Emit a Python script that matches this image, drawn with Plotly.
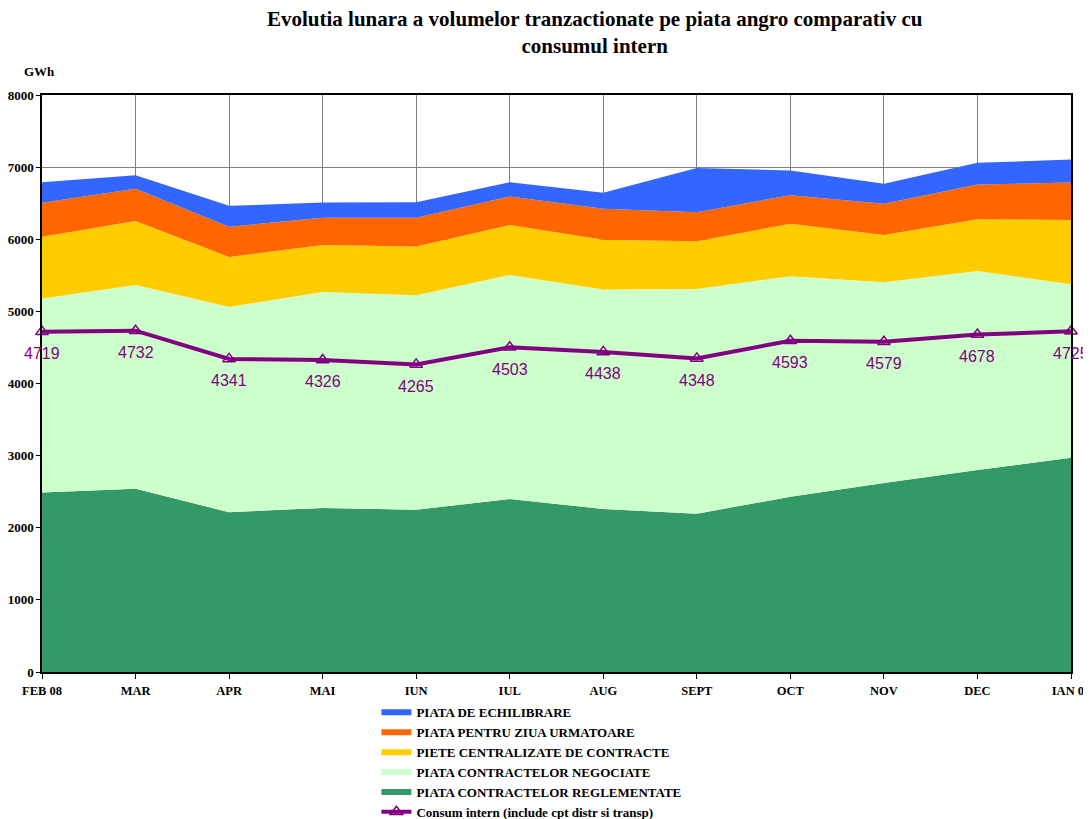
import plotly.graph_objects as go

luni = ["FEB 08", "MAR", "APR", "MAI", "IUN", "IUL", "AUG", "SEPT", "OCT", "NOV", "DEC", "IAN 09"]

# GWh pe fiecare piata (valori estimate din grafic)
reglementate = [2490, 2540, 2215, 2275, 2250, 2400, 2260, 2195, 2430, 2620, 2800, 2970]
negociate = [2687, 2826, 2847, 2995, 2974, 3105, 3042, 3116, 3057, 2784, 2760, 2406]
centralizate = [858, 886, 692, 650, 677, 691, 691, 660, 728, 654, 719, 890]
pzu = [470, 447, 419, 378, 397, 397, 429, 405, 396, 433, 480, 521]
echilibrare = [286, 189, 290, 212, 216, 198, 221, 613, 342, 277, 300, 318]
consum = [4719, 4732, 4341, 4326, 4265, 4503, 4438, 4348, 4593, 4579, 4678, 4725]

serif = "Liberation Serif"
mov = "#800080"

fig = go.Figure()

zone = [
    ("PIATA CONTRACTELOR REGLEMENTATE", reglementate, "#339966", 5),
    ("PIATA CONTRACTELOR NEGOCIATE", negociate, "#CCFFCC", 4),
    ("PIETE CENTRALIZATE DE CONTRACTE", centralizate, "#FFCC00", 3),
    ("PIATA PENTRU ZIUA URMATOARE", pzu, "#FF6600", 2),
    ("PIATA DE ECHILIBRARE", echilibrare, "#3366FF", 1),
]
for nume, vals, col, rank in zone:
    fig.add_trace(go.Scatter(
        x=luni, y=vals, name=nume, stackgroup="one", mode="none",
        fillcolor=col, legendrank=rank,
    ))

fig.add_trace(go.Scatter(
    x=luni, y=consum, name="Consum intern (include cpt distr si transp)",
    mode="lines+markers",
    line=dict(color=mov, width=4),
    marker=dict(symbol="triangle-up-open", size=11, color=mov,
                line=dict(width=1.5, color=mov)),
    legendrank=6, cliponaxis=False,
))

# etichete consum, sub fiecare punct
etichete = [dict(x=l, y=v, text=str(v), showarrow=False, yshift=-22,
                 font=dict(family="Liberation Sans", size=16, color=mov))
            for l, v in zip(luni, consum)]

# pagina are o margine de 8px, deci figura e cu 8px mai mica
fig.update_layout(
    width=1083, height=811,
    margin=dict(l=34, r=20, t=87, b=147, autoexpand=False),
    paper_bgcolor="white", plot_bgcolor="white",
    font=dict(family=serif, color="black"),
    showlegend=True,
    legend=dict(
        x=0.325, y=-0.044, xanchor="left", yanchor="top",
        traceorder="normal",
        font=dict(family=serif, size=13, color="black", weight="bold"),
        tracegroupgap=0, itemwidth=30,
    ),
    annotations=etichete + [
        dict(text="GWh", xref="paper", yref="paper", x=-0.019, y=1.04,
             xanchor="left", yanchor="middle", showarrow=False,
             font=dict(family=serif, size=13, color="black", weight="bold")),
        dict(text="Evolutia lunara a volumelor tranzactionate pe piata angro comparativ cu<br>consumul intern",
             xref="paper", yref="paper", x=0.5374, y=1.1075, xanchor="center",
             yanchor="middle", showarrow=False,
             font=dict(family=serif, size=21, color="black", weight="bold")),
    ],
)

fig.update_xaxes(
    type="category", range=[0, 11], automargin=False,
    showgrid=True, gridcolor="#808080", gridwidth=1,
    showline=True, linecolor="black", linewidth=1.5, mirror=True,
    ticks="outside", ticklen=5, tickcolor="black", ticklabelstandoff=1,
    tickfont=dict(family=serif, size=12.5, color="black", weight="bold"),
    zeroline=False,
)
fig.update_yaxes(
    range=[0, 8000], dtick=1000, automargin=False,
    showgrid=True, gridcolor="#808080", gridwidth=1,
    showline=True, linecolor="black", linewidth=1.5, mirror=True,
    ticks="outside", ticklen=4, tickcolor="black",
    tickfont=dict(family=serif, size=13, color="black", weight="bold"),
    zeroline=False,
)

fig.write_html("out.html")
